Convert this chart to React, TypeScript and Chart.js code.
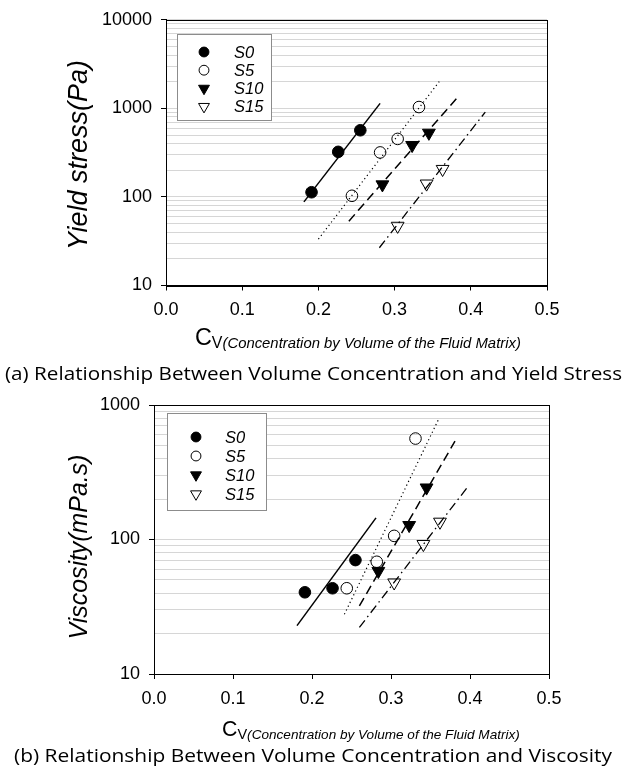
import React, { useEffect, useRef } from "react";
import { Chart, registerables } from "chart.js";
import { drawPoint } from "chart.js/helpers";
Chart.register(...registerables);

// ---------- labels / ticks ----------
const SERIES = ["S0", "S5", "S10", "S15"];
const CV_TICKS = [0, 0.1, 0.2, 0.3, 0.4, 0.5];
const YIELD_TICKS = [10, 100, 1000, 10000];
const VISC_TICKS = [10, 100, 1000];

// ---------- (a) yield stress (Pa) ----------
const yieldCvS0 = [0.191, 0.226, 0.255];
const yieldS0 = [113, 323, 566];
const yieldCvS5 = [0.244, 0.281, 0.304, 0.332];
const yieldS5 = [103, 318, 452, 1035];
const yieldCvS10 = [0.284, 0.323, 0.345];
const yieldS10 = [138, 384, 528];
const yieldCvS15 = [0.304, 0.342, 0.363];
const yieldS15 = [47, 141, 206];
// fitted trend lines (end points)
const yieldFitCvS0 = [0.181, 0.281];
const yieldFitS0 = [88, 1138];
const yieldFitCvS5 = [0.2, 0.359];
const yieldFitS5 = [33.4, 2028];
const yieldFitCvS10 = [0.24, 0.381];
const yieldFitS10 = [53.3, 1284];
const yieldFitCvS15 = [0.28, 0.419];
const yieldFitS15 = [26.7, 909];

// ---------- (b) viscosity (mPa.s) ----------
const viscCvS0 = [0.191, 0.226, 0.255];
const viscS0 = [40.5, 43.4, 70.3];
const viscCvS5 = [0.244, 0.282, 0.304, 0.331];
const viscS5 = [43.4, 68.3, 106.4, 563];
const viscCvS10 = [0.284, 0.323, 0.345];
const viscS10 = [58.2, 127.7, 242.8];
const viscCvS15 = [0.304, 0.341, 0.362];
const viscS15 = [47.8, 92.3, 135.2];
const viscFitCvS0 = [0.181, 0.281];
const viscFitS0 = [22.9, 144.7];
const viscFitCvS5 = [0.241, 0.36];
const viscFitS5 = [27.8, 778];
const viscFitCvS10 = [0.26, 0.381];
const viscFitS10 = [32.1, 538];
const viscFitCvS15 = [0.26, 0.398];
const viscFitS15 = [22.2, 250];

// ---------- styles ----------
const MARKERS = [
  { style: "circle", fill: "#000", rot: 0, r: 5.8 },
  { style: "circle", fill: "rgba(0,0,0,0)", rot: 0, r: 5.8 },
  { style: "triangle", fill: "#000", rot: 180, r: 7.4 },
  { style: "triangle", fill: "rgba(0,0,0,0)", rot: 180, r: 7.4 },
];
const DASHES = [[], [1.2, 3], [9, 5], [9, 4, 1.5, 4]];
const LINE_W = [1.5, 1.2, 1.5, 1.3];

const xy = (xs: number[], ys: number[]) => xs.map((x, i) => ({ x, y: ys[i] }));

function buildDatasets(pts: [number[], number[]][], fits: [number[], number[]][]) {
  const ds: any[] = [];
  pts.forEach(([xs, ys], i) => {
    const m = MARKERS[i];
    ds.push({
      label: SERIES[i],
      data: xy(xs, ys),
      showLine: false,
      pointStyle: m.style,
      pointRotation: m.rot,
      pointRadius: m.r,
      pointBackgroundColor: m.fill,
      pointBorderColor: "#000",
      pointBorderWidth: 1,
      order: 0,
    });
  });
  fits.forEach(([xs, ys], i) => {
    ds.push({
      label: SERIES[i] + " fit",
      data: xy(xs, ys),
      showLine: true,
      pointRadius: 0,
      borderColor: "#000",
      borderWidth: LINE_W[i],
      borderDash: DASHES[i],
      order: 1,
    });
  });
  return ds;
}

function minorValues(ticks: number[]) {
  const out: number[] = [];
  for (let i = 0; i < ticks.length - 1; i++) {
    for (let k = 1; k <= 9; k++) out.push(ticks[i] * k);
  }
  out.push(ticks[ticks.length - 1]);
  return out;
}

type Decor = {
  yTitle: string;
  yTitleX: number;
  yTitleY: number;
  yTitleLen: number;
  xTitleStart: number;
  xTitleEnd: number;
  xTitleBase: number;
  caption: string;
  capStart: number;
  capEnd: number;
  capBase: number;
  legBox: [number, number, number, number];
  legMarkX: number;
  legTextX: number;
  legRow0: number;
  legRowGap: number;
};

function decorPlugin(o: Decor) {
  return {
    id: "decor",
    afterDraw(chart: any) {
      const ctx: CanvasRenderingContext2D = chart.ctx;
      const a = chart.chartArea;
      ctx.save();
      // frame
      ctx.strokeStyle = "#000";
      ctx.lineWidth = 1;
      ctx.setLineDash([]);
      const L = Math.round(a.left) + 0.5,
        T = Math.round(a.top) + 0.5,
        R = Math.round(a.right) + 0.5,
        B = Math.round(a.bottom) + 0.5;
      ctx.strokeRect(L, T, R - L, B - T);

      ctx.fillStyle = "#000";
      // y title
      ctx.save();
      ctx.font = 'italic 20px "Liberation Sans"';
      const w0 = ctx.measureText(o.yTitle).width;
      const ys = (20 * o.yTitleLen) / w0;
      ctx.font = `italic ${ys}px "Liberation Sans"`;
      ctx.translate(o.yTitleX, o.yTitleY);
      ctx.rotate(-Math.PI / 2);
      ctx.textAlign = "center";
      ctx.textBaseline = "middle";
      ctx.fillText(o.yTitle, 0, 0);
      ctx.restore();

      // x title: C_V(...)
      ctx.save();
      ctx.textAlign = "left";
      ctx.textBaseline = "alphabetic";
      const parts = [
        { t: "C", f: (s: number) => `${22 * s}px "Liberation Sans"`, dy: 0 },
        { t: "V", f: (s: number) => `${15 * s}px "Liberation Sans"`, dy: 3 },
        { t: "(Concentration by Volume of the Fluid Matrix)", f: (s: number) => `italic ${14 * s}px "Liberation Sans"`, dy: 3 },
      ];
      let tot = 0;
      parts.forEach((p) => {
        ctx.font = p.f(1);
        tot += ctx.measureText(p.t).width;
      });
      const k = (o.xTitleEnd - o.xTitleStart) / tot;
      let cx = o.xTitleStart;
      parts.forEach((p) => {
        ctx.font = p.f(k);
        ctx.fillText(p.t, cx, o.xTitleBase + p.dy);
        cx += ctx.measureText(p.t).width;
      });
      ctx.restore();

      // caption
      ctx.save();
      ctx.font = '19px "Open Sans"';
      ctx.textAlign = "left";
      ctx.textBaseline = "alphabetic";
      const cw = ctx.measureText(o.caption).width;
      const sx = (o.capEnd - o.capStart) / cw;
      ctx.translate(o.capStart, o.capBase);
      ctx.scale(sx, 1);
      ctx.fillText(o.caption, 0, 0);
      ctx.restore();

      // legend
      ctx.save();
      const [bx, by, bw, bh] = o.legBox;
      ctx.fillStyle = "#fff";
      ctx.fillRect(bx, by, bw, bh);
      ctx.strokeStyle = "#8c8c8c";
      ctx.lineWidth = 1;
      ctx.strokeRect(bx + 0.5, by + 0.5, bw, bh);
      ctx.font = 'italic 16.5px "Liberation Sans"';
      ctx.textBaseline = "middle";
      ctx.textAlign = "left";
      SERIES.forEach((s, i) => {
        const m = MARKERS[i];
        const yy = o.legRow0 + i * o.legRowGap;
        ctx.fillStyle = m.fill;
        ctx.strokeStyle = "#000";
        ctx.lineWidth = 1;
        drawPoint(ctx, { pointStyle: m.style as any, rotation: m.rot, radius: m.r * 0.85, borderWidth: 1 }, o.legMarkX, yy);
        ctx.fillStyle = "#000";
        ctx.fillText(s, o.legTextX, yy + 1);
      });
      ctx.restore();
      ctx.restore();
    },
  };
}

function makeConfig(
  datasets: any[],
  yTicks: number[],
  pad: { left: number; right: number; top: number; bottom: number },
  decor: Decor
) {
  const yMinor = minorValues(yTicks);
  const tickFont = { family: "Liberation Sans", size: 18 };
  return {
    type: "scatter",
    data: { datasets },
    plugins: [decorPlugin(decor)],
    options: {
      animation: false,
      responsive: false,
      events: [],
      layout: { padding: { left: 0, right: pad.right, top: pad.top, bottom: pad.bottom } },
      plugins: { legend: { display: false }, tooltip: { enabled: false }, title: { display: false } },
      scales: {
        x: {
          type: "linear",
          min: CV_TICKS[0],
          max: CV_TICKS[CV_TICKS.length - 1],
          afterBuildTicks: (s: any) => {
            s.ticks = CV_TICKS.map((v) => ({ value: v }));
          },
          afterFit: (s: any) => {
            s.height = 40;
          },
          ticks: {
            autoSkip: false,
            maxRotation: 0,
            padding: 9,
            color: "#000",
            font: tickFont,
            callback: (v: number) => Number(v).toFixed(1),
          },
          grid: { drawOnChartArea: false, drawTicks: true, tickLength: 5, tickColor: "#000", tickWidth: 1 },
          border: { display: true, color: "#000", width: 1 },
          title: { display: false },
        },
        y: {
          type: "logarithmic",
          min: yTicks[0],
          max: yTicks[yTicks.length - 1],
          afterBuildTicks: (s: any) => {
            s.ticks = yMinor.map((v) => ({ value: v, major: yTicks.includes(v) }));
          },
          afterFit: (s: any) => {
            s.width = pad.left;
          },
          ticks: {
            autoSkip: false,
            padding: 9,
            color: "#000",
            font: tickFont,
            major: { enabled: false },
            callback: (v: number) => (yTicks.includes(Number(v)) ? String(v) : ""),
          },
          grid: {
            drawOnChartArea: true,
            drawTicks: true,
            tickLength: 5,
            color: "#d6d6d6",
            lineWidth: 1,
            tickColor: (c: any) => (c.tick && yTicks.includes(c.tick.value) ? "#000" : "rgba(0,0,0,0)"),
          },
          border: { display: true, color: "#000", width: 1 },
          title: { display: false },
        },
      },
    },
  } as any;
}

export default function App() {
  const topRef = useRef<HTMLCanvasElement>(null);
  const botRef = useRef<HTMLCanvasElement>(null);

  useEffect(() => {
    const topDs = buildDatasets(
      [
        [yieldCvS0, yieldS0],
        [yieldCvS5, yieldS5],
        [yieldCvS10, yieldS10],
        [yieldCvS15, yieldS15],
      ],
      [
        [yieldFitCvS0, yieldFitS0],
        [yieldFitCvS5, yieldFitS5],
        [yieldFitCvS10, yieldFitS10],
        [yieldFitCvS15, yieldFitS15],
      ]
    );
    const botDs = buildDatasets(
      [
        [viscCvS0, viscS0],
        [viscCvS5, viscS5],
        [viscCvS10, viscS10],
        [viscCvS15, viscS15],
      ],
      [
        [viscFitCvS0, viscFitS0],
        [viscFitCvS5, viscFitS5],
        [viscFitCvS10, viscFitS10],
        [viscFitCvS15, viscFitS15],
      ]
    );
    const topChart = new Chart(
      topRef.current as HTMLCanvasElement,
      makeConfig(topDs, YIELD_TICKS, { left: 166, right: 82, top: 19, bottom: 64.5 }, {
        yTitle: "Yield stress(Pa)",
        yTitleX: 79,
        yTitleY: 155,
        yTitleLen: 190,
        xTitleStart: 195,
        xTitleEnd: 521,
        xTitleBase: 345,
        caption: "(a) Relationship Between Volume Concentration and Yield Stress",
        capStart: 5,
        capEnd: 622,
        capBase: 380,
        legBox: [177, 34, 94, 86],
        legMarkX: 204,
        legTextX: 234,
        legRow0: 52,
        legRowGap: 18.2,
      })
    );
    const botChart = new Chart(
      botRef.current as HTMLCanvasElement,
      makeConfig(botDs, VISC_TICKS, { left: 154, right: 80, top: 35, bottom: 62 }, {
        yTitle: "Viscosity(mPa.s)",
        yTitleX: 80,
        yTitleY: 177,
        yTitleLen: 185,
        xTitleStart: 222,
        xTitleEnd: 520,
        xTitleBase: 366,
        caption: "(b) Relationship Between Volume Concentration and Viscosity",
        capStart: 14,
        capEnd: 612,
        capBase: 392,
        legBox: [167, 43, 99, 97],
        legMarkX: 196,
        legTextX: 225,
        legRow0: 67,
        legRowGap: 19,
      })
    );
    return () => {
      topChart.destroy();
      botChart.destroy();
    };
  }, []);

  return (
    <div style={{ position: "absolute", left: 0, top: 0, width: 629, height: 776, background: "#fff" }}>
      <canvas ref={topRef} width={629} height={390} style={{ position: "absolute", left: 0, top: 0, width: 629, height: 390 }} />
      <canvas ref={botRef} width={629} height={406} style={{ position: "absolute", left: 0, top: 370, width: 629, height: 406 }} />
    </div>
  );
}
